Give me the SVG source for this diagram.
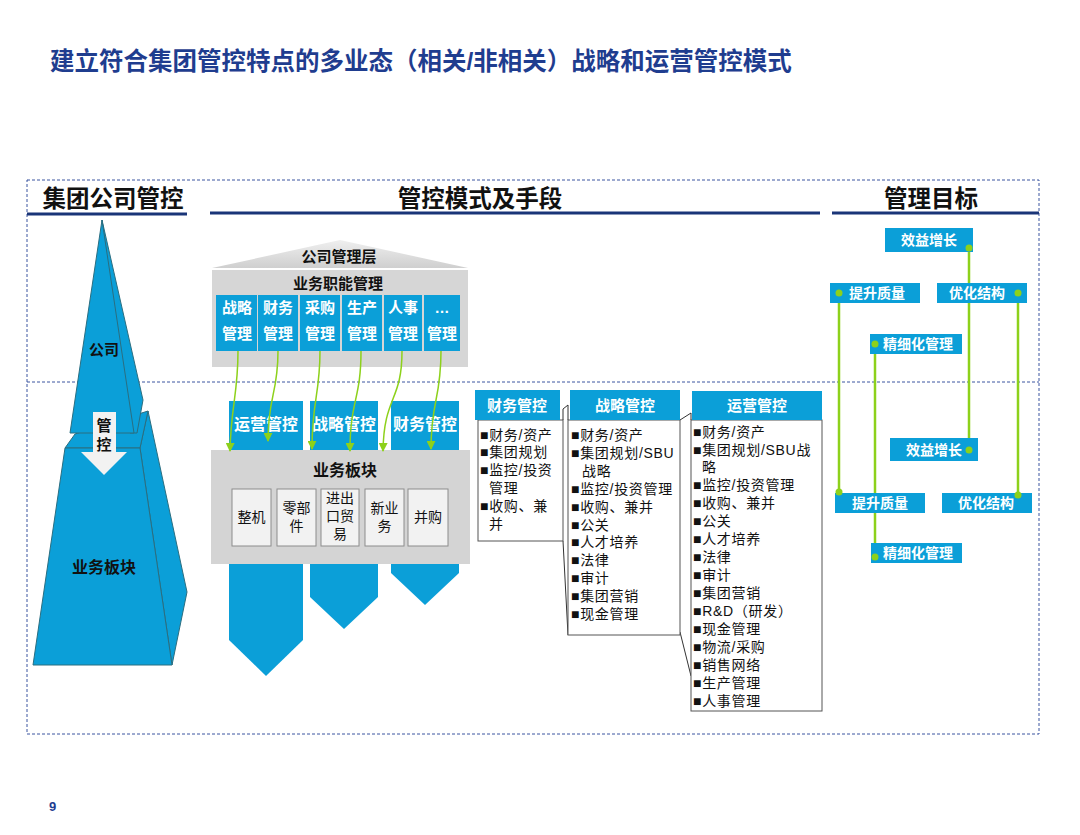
<svg xmlns="http://www.w3.org/2000/svg" width="1080" height="835" viewBox="0 0 1080 835">
<defs>
<style>
text{font-family:"Liberation Sans","Noto Sans CJK SC",sans-serif}
.blue{fill:#0B9FD8}
.pyr{fill:#0B9FD8;stroke:#2B6E80;stroke-width:1}
.wt{fill:#fff;font-weight:bold;text-anchor:middle}
.bk{fill:#111;font-weight:bold;text-anchor:middle}
.hdr{font-size:23.5px;font-weight:bold;fill:#111;text-anchor:middle}
.ul{stroke:#1A3578;stroke-width:3}
.dash{fill:none;stroke:#3A55A0;stroke-width:1;stroke-dasharray:3 2}
.list{font-size:14px;fill:#111;letter-spacing:0.7px}
.body{fill:#fff;stroke:#555;stroke-width:1}
.thin{stroke:#333;stroke-width:1;fill:none}
.g{stroke:#8DD11B;fill:none;stroke-width:1.5}
.tg{stroke:#8DD11B;stroke-width:2.5}
.dot{fill:#8DD11B}
.sub{fill:#F2F2F2;stroke:#8C8C8C;stroke-width:1}
.st{font-size:14px;fill:#111;text-anchor:middle}
</style>
<marker id="ah" viewBox="0 0 10 10" refX="9" refY="5" markerWidth="9" markerHeight="9" markerUnits="userSpaceOnUse" orient="auto">
<path d="M0,0 L10,5 L0,10 z" fill="#8DD11B"/>
</marker>
<linearGradient id="roof" x1="0" y1="0" x2="0" y2="1">
<stop offset="0" stop-color="#EFEFEF"/>
<stop offset="1" stop-color="#CFCFCF"/>
</linearGradient>
</defs>
<rect width="1080" height="835" fill="#fff"/>

<g id="title">
<text x="50" y="70" font-size="24.5" font-weight="bold" fill="#1F3D8F">建立符合集团管控特点的多业态（相关/非相关）战略和运营管控模式</text>
</g>

<g id="frame">
<rect class="dash" x="27" y="180" width="1012" height="554"/>
<line class="dash" x1="27" y1="382" x2="1039" y2="382"/>
</g>

<g id="headers">
<text class="hdr" x="113" y="207">集团公司管控</text>
<line class="ul" x1="27" y1="214" x2="187" y2="214"/>
<text class="hdr" x="480" y="207">管控模式及手段</text>
<line class="ul" x1="210" y1="213" x2="820" y2="213"/>
<text class="hdr" x="931" y="207">管理目标</text>
<line class="ul" x1="832" y1="213" x2="1039" y2="213"/>
</g>

<g id="pyramid">
<polygon class="pyr" points="140,448 148,411 187,592 172,665"/>
<polygon class="pyr" points="65,448 75,434 148,411 140,448"/>
<polygon class="pyr" points="65,448 140,448 172,665 33,665"/>
<polygon class="pyr" points="102,220 143,400 137,433 130,433"/>
<polygon class="pyr" points="102,220 70,433 134,433"/>
<text class="bk" x="104" y="355" font-size="15">公司</text>
<rect x="93" y="412" width="23" height="40" fill="#F2F2F2"/>
<polygon points="81,452 127,452 104,475" fill="#F2F2F2"/>
<text class="bk" x="104" y="431" font-size="15">管</text>
<text class="bk" x="104" y="450" font-size="15">控</text>
<text class="bk" x="104" y="573" font-size="16">业务板块</text>
</g>

<g id="house">
<polygon points="212,268 340,240 468,268" fill="url(#roof)"/>
<rect x="212" y="270" width="256" height="97" fill="#D6D6D6"/>
<text class="bk" x="339" y="262" font-size="15">公司管理层</text>
<text class="bk" x="338" y="289" font-size="15">业务职能管理</text>
</g>

<g id="functions">
<rect class="blue" x="216" y="295" width="41" height="56"/>
<rect class="blue" x="258" y="295" width="40" height="56"/>
<rect class="blue" x="300" y="295" width="40" height="56"/>
<rect class="blue" x="342" y="295" width="40" height="56"/>
<rect class="blue" x="384" y="295" width="38" height="56"/>
<rect class="blue" x="424" y="295" width="36" height="56"/>
<g font-size="15">
<text class="wt" x="237" y="313">战略</text><text class="wt" x="237" y="339">管理</text>
<text class="wt" x="278" y="313">财务</text><text class="wt" x="278" y="339">管理</text>
<text class="wt" x="320" y="313">采购</text><text class="wt" x="320" y="339">管理</text>
<text class="wt" x="362" y="313">生产</text><text class="wt" x="362" y="339">管理</text>
<text class="wt" x="403" y="313">人事</text><text class="wt" x="403" y="339">管理</text>
<text class="wt" x="442" y="313">…</text><text class="wt" x="442" y="339">管理</text>
</g>
</g>

<g id="columns">
<polygon class="blue" points="229,401 303,401 303,640 266,676 229,640"/>
<polygon class="blue" points="310,401 378,401 378,597 344,629 310,597"/>
<polygon class="blue" points="391,401 459,401 459,573 425,605 391,573"/>
<text class="wt" x="266" y="430" font-size="16">运营管控</text>
<text class="wt" x="344" y="430" font-size="16">战略管控</text>
<text class="wt" x="425" y="430" font-size="16">财务管控</text>
</g>

<g id="business">
<rect x="211" y="450" width="259" height="114" fill="#D4D4D4"/>
<text class="bk" x="345" y="476" font-size="16">业务板块</text>
<rect class="sub" x="232" y="489" width="39" height="57"/>
<rect class="sub" x="277" y="489" width="39" height="57"/>
<rect class="sub" x="321" y="489" width="38" height="57"/>
<rect class="sub" x="365" y="489" width="39" height="57"/>
<rect class="sub" x="408" y="489" width="40" height="57"/>
<text class="st" x="251.5" y="522">整机</text>
<text class="st" x="296.5" y="513">零部</text><text class="st" x="296.5" y="531">件</text>
<text class="st" x="340" y="503">进出</text><text class="st" x="340" y="521">口贸</text><text class="st" x="340" y="539">易</text>
<text class="st" x="384.5" y="513">新业</text><text class="st" x="384.5" y="531">务</text>
<text class="st" x="428" y="522">并购</text>
</g>

<g id="connectors">
<path class="g" marker-end="url(#ah)" d="M238,351 C238,395 231,405 230,451"/>
<path class="g" marker-end="url(#ah)" d="M278,351 C278,395 268,395 268,441"/>
<path class="g" marker-end="url(#ah)" d="M320,351 C320,395 312,400 312,449"/>
<path class="g" marker-end="url(#ah)" d="M361,351 C361,400 350,400 350,451"/>
<path class="g" marker-end="url(#ah)" d="M402,351 C402,402 384,395 383,451"/>
<path class="g" marker-end="url(#ah)" d="M441,351 C441,400 431,400 431,449"/>
<line class="thin" x1="563" y1="409" x2="568" y2="405"/>
<line class="thin" x1="563" y1="541" x2="568" y2="635"/>
<line class="thin" x1="680" y1="420" x2="691" y2="413"/>
<line class="thin" x1="680" y1="632" x2="691" y2="676"/>
</g>

<g id="list-finance">
<rect class="body" x="478" y="420" width="85" height="121"/>
<line class="thin" x1="563" y1="409" x2="563" y2="420"/>
<rect class="blue" x="475" y="390" width="85" height="30"/>
<text class="wt" x="517" y="411" font-size="15">财务管控</text>
<text class="list" x="480" y="440">■财务/资产</text>
<text class="list" x="480" y="457">■集团规划</text>
<text class="list" x="480" y="475">■监控/投资</text>
<text class="list" x="489" y="493">管理</text>
<text class="list" x="480" y="511">■收购、兼</text>
<text class="list" x="489" y="529">并</text>
</g>

<g id="list-strategy">
<rect class="body" x="568" y="420" width="112" height="215"/>
<line class="thin" x1="568" y1="405" x2="568" y2="420"/>
<rect class="blue" x="570" y="390" width="110" height="30"/>
<text class="wt" x="625" y="411" font-size="15">战略管控</text>
<text class="list" x="571" y="440">■财务/资产</text>
<text class="list" x="571" y="458">■集团规划/SBU</text>
<text class="list" x="582" y="476">战略</text>
<text class="list" x="571" y="494">■监控/投资管理</text>
<text class="list" x="571" y="512">■收购、兼并</text>
<text class="list" x="571" y="530">■公关</text>
<text class="list" x="571" y="547">■人才培养</text>
<text class="list" x="571" y="565">■法律</text>
<text class="list" x="571" y="583">■审计</text>
<text class="list" x="571" y="601">■集团营销</text>
<text class="list" x="571" y="619">■现金管理</text>
</g>

<g id="list-operation">
<rect class="body" x="691" y="420" width="131" height="291"/>
<line class="thin" x1="691" y1="413" x2="691" y2="420"/>
<rect class="blue" x="692" y="391" width="130" height="29"/>
<text class="wt" x="757" y="411" font-size="15">运营管控</text>
<text class="list" x="693" y="437">■财务/资产</text>
<text class="list" x="693" y="455">■集团规划/SBU战</text>
<text class="list" x="702" y="472">略</text>
<text class="list" x="693" y="490">■监控/投资管理</text>
<text class="list" x="693" y="508">■收购、兼并</text>
<text class="list" x="693" y="526">■公关</text>
<text class="list" x="693" y="544">■人才培养</text>
<text class="list" x="693" y="562">■法律</text>
<text class="list" x="693" y="580">■审计</text>
<text class="list" x="693" y="598">■集团营销</text>
<text class="list" x="693" y="616">■R&amp;D（研发）</text>
<text class="list" x="693" y="634">■现金管理</text>
<text class="list" x="693" y="652">■物流/采购</text>
<text class="list" x="693" y="670">■销售网络</text>
<text class="list" x="693" y="688">■生产管理</text>
<text class="list" x="693" y="706">■人事管理</text>
</g>

<g id="targets">
<line class="tg" x1="969" y1="248" x2="969" y2="450"/>
<line class="tg" x1="839" y1="293" x2="839" y2="492"/>
<line class="tg" x1="1018" y1="293" x2="1018" y2="495"/>
<line class="tg" x1="875" y1="344" x2="875" y2="557"/>
<g id="t-xyzz1"><rect class="blue" x="885" y="228" width="88" height="24"/><text class="wt" x="929" y="245" font-size="14">效益增长</text></g>
<g id="t-tszl1"><rect class="blue" x="830" y="283" width="90" height="20"/><text class="wt" x="877" y="298" font-size="14">提升质量</text></g>
<g id="t-yhjg1"><rect class="blue" x="937" y="283" width="90" height="20"/><text class="wt" x="977" y="298" font-size="14">优化结构</text></g>
<g id="t-jxh1"><rect class="blue" x="870" y="334" width="92" height="20"/><text class="wt" x="918" y="349" font-size="14">精细化管理</text></g>
<g id="t-xyzz2"><rect class="blue" x="890" y="438" width="88" height="23"/><text class="wt" x="934" y="455" font-size="14">效益增长</text></g>
<g id="t-tszl2"><rect class="blue" x="835" y="493" width="90" height="20"/><text class="wt" x="880" y="508" font-size="14">提升质量</text></g>
<g id="t-yhjg2"><rect class="blue" x="942" y="493" width="90" height="20"/><text class="wt" x="986" y="508" font-size="14">优化结构</text></g>
<g id="t-jxh2"><rect class="blue" x="871" y="543" width="91" height="20"/><text class="wt" x="918" y="558" font-size="14">精细化管理</text></g>
<circle class="dot" cx="969" cy="248" r="3.5"/>
<circle class="dot" cx="969" cy="450" r="3.5"/>
<circle class="dot" cx="839" cy="293" r="3.5"/>
<circle class="dot" cx="839" cy="492" r="3.5"/>
<circle class="dot" cx="1018" cy="293" r="3.5"/>
<circle class="dot" cx="1018" cy="495" r="3.5"/>
<circle class="dot" cx="875" cy="344" r="3.5"/>
<circle class="dot" cx="875" cy="557" r="3.5"/>
</g>

<g id="page">
<text x="49" y="811" font-size="13" font-weight="bold" fill="#1F3D8F">9</text>
</g>
</svg>
